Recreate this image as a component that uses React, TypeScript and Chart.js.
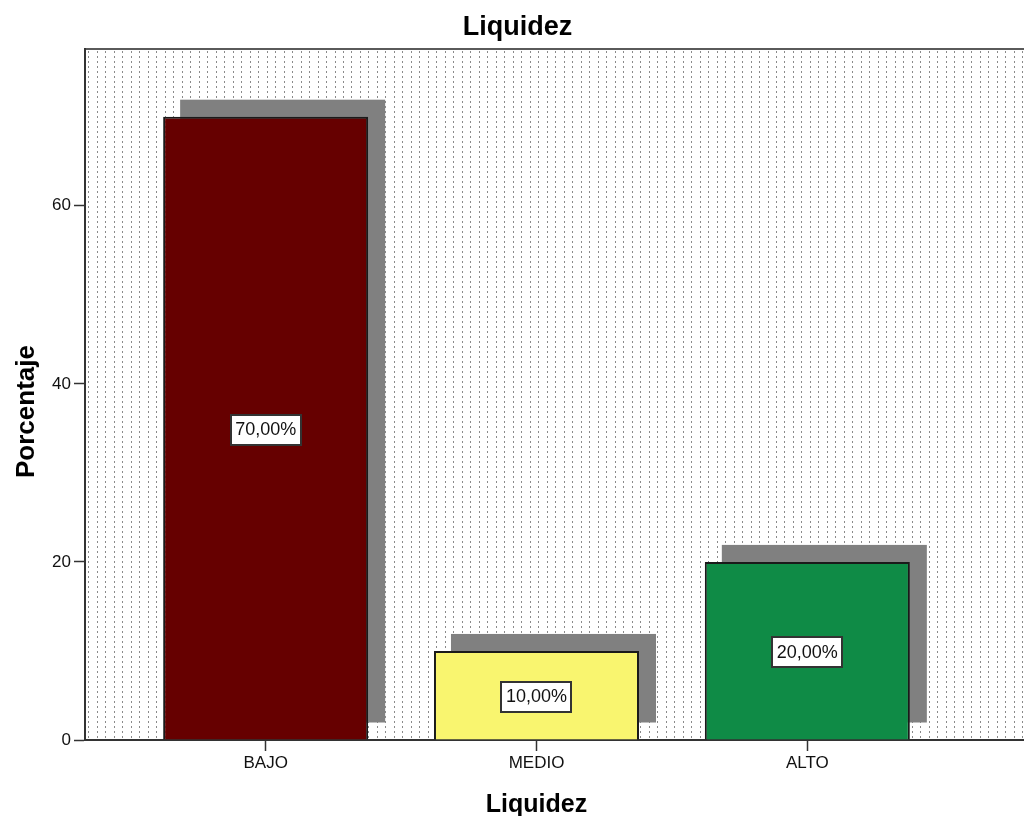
import { useEffect, useRef } from 'react';
import { Chart, registerables } from 'chart.js';

Chart.register(...registerables);

// Frequency table: Liquidez
const CATEGORIES = ['BAJO', 'MEDIO', 'ALTO'];
const PERCENTAGES = [70, 10, 20];
const BAR_COLORS = ['#660000', '#F9F56F', '#0F8B46'];
const Y_TICKS = [0, 20, 40, 60];

const CHART_TITLE = 'Liquidez';
const X_TITLE = 'Liquidez';
const Y_TITLE = 'Porcentaje';

const FONT = '"Liberation Sans", Arial, Helvetica, sans-serif';
const SHADOW_OFFSET = 17;

const formatPct = (v: number) => v.toFixed(2).replace('.', ',') + '%';

// Dotted backdrop, drop shadows, boxed value labels and axis titles
const spssDecor = {
  id: 'spssDecor',
  beforeDraw(chart: any) {
    const { ctx, chartArea: a, width } = chart;
    ctx.save();
    ctx.fillStyle = '#ffffff';
    ctx.fillRect(a.left, a.top, width - a.left, a.bottom - a.top);
    ctx.beginPath();
    ctx.rect(a.left, a.top, width - a.left, a.bottom - a.top);
    ctx.clip();
    ctx.strokeStyle = '#8a8a8a';
    ctx.lineWidth = 1;
    ctx.setLineDash([2, 3]);
    for (let x = a.left + 3.3; x < width; x += 8.49) {
      const px = Math.round(x) + 0.5;
      ctx.beginPath();
      ctx.moveTo(px, a.top + 2);
      ctx.lineTo(px, a.bottom);
      ctx.stroke();
    }
    ctx.restore();

    ctx.save();
    ctx.strokeStyle = '#5a5a5a';
    ctx.lineWidth = 2;
    ctx.beginPath();
    ctx.moveTo(a.left, a.top);
    ctx.lineTo(width, a.top);
    ctx.stroke();
    ctx.restore();
  },
  beforeDatasetsDraw(chart: any) {
    const { ctx } = chart;
    const meta = chart.getDatasetMeta(0);
    ctx.save();
    ctx.fillStyle = '#808080';
    meta.data.forEach((bar: any) => {
      const { x, y, base, width } = bar.getProps(['x', 'y', 'base', 'width'], true);
      ctx.fillRect(x - width / 2 + SHADOW_OFFSET, y - SHADOW_OFFSET, width, base - y);
    });
    ctx.restore();
  },
  afterDatasetsDraw(chart: any) {
    const { ctx } = chart;
    const meta = chart.getDatasetMeta(0);
    ctx.save();
    ctx.font = `18px ${FONT}`;
    ctx.textAlign = 'center';
    ctx.textBaseline = 'middle';
    meta.data.forEach((bar: any, i: number) => {
      const { x, y, base } = bar.getProps(['x', 'y', 'base'], true);
      const text = formatPct(PERCENTAGES[i]);
      const tw = ctx.measureText(text).width;
      const bw = Math.round(tw + 9);
      const bh = 30;
      const cx = x;
      const cy = (y + base) / 2 + 1.5;
      const left = Math.round(cx - bw / 2);
      const top = Math.round(cy - bh / 2);
      ctx.fillStyle = '#ffffff';
      ctx.fillRect(left, top, bw, bh);
      ctx.strokeStyle = '#333333';
      ctx.lineWidth = 2;
      ctx.strokeRect(left, top, bw, bh);
      ctx.fillStyle = '#111111';
      ctx.fillText(text, cx, cy + 0.5);
    });
    ctx.restore();
  },
  afterDraw(chart: any) {
    const { ctx, scales } = chart;
    ctx.save();
    ctx.fillStyle = '#000000';
    ctx.textAlign = 'center';
    ctx.textBaseline = 'alphabetic';

    ctx.font = `bold 25px ${FONT}`;
    ctx.fillText(X_TITLE, scales.x.getPixelForValue(1), 812);

    ctx.translate(33.6, 411.5);
    ctx.rotate(-Math.PI / 2);
    ctx.font = `bold 26px ${FONT}`;
    ctx.fillText(Y_TITLE, 0, 0);
    ctx.restore();
  },
};

export default function App() {
  const canvasRef = useRef<HTMLCanvasElement | null>(null);

  useEffect(() => {
    const canvas = canvasRef.current;
    if (!canvas) return;

    const chart = new Chart(canvas, {
      type: 'bar',
      data: {
        datasets: [
          {
            data: PERCENTAGES.map((v, i) => ({ x: i, y: v })),
            backgroundColor: BAR_COLORS,
            borderColor: '#1a1a1a',
            borderWidth: 2,
            barPercentage: 0.757,
            categoryPercentage: 1,
          },
        ],
      },
      options: {
        responsive: false,
        animation: false,
        devicePixelRatio: 1,
        layout: { padding: { left: 11, right: 0, top: 0, bottom: 0 } },
        plugins: {
          legend: { display: false },
          tooltip: { enabled: false },
          title: {
            display: true,
            text: CHART_TITLE,
            color: '#000000',
            font: { family: FONT, size: 27, weight: 'bold' },
            padding: { top: 11.6, bottom: 5 },
          },
        },
        scales: {
          x: {
            type: 'linear',
            offset: false,
            min: -0.667,
            max: 2.8,
            afterBuildTicks: (scale: any) => {
              scale.ticks = CATEGORIES.map((_, i) => ({ value: i }));
            },
            afterFit: (scale: any) => {
              scale.height = 76;
            },
            ticks: {
              autoSkip: false,
              maxRotation: 0,
              padding: 2,
              color: '#111111',
              font: { family: FONT, size: 17 },
              callback: (v: any) => CATEGORIES[v] ?? '',
            },
            grid: {
              offset: false,
              drawOnChartArea: false,
              drawTicks: true,
              tickLength: 11,
              tickColor: '#333333',
              tickWidth: 1.5,
            },
            border: { display: true, color: '#333333', width: 2 },
          },
          y: {
            type: 'linear',
            min: 0,
            max: 77.6,
            afterBuildTicks: (scale: any) => {
              scale.ticks = Y_TICKS.map((v) => ({ value: v }));
            },
            afterFit: (scale: any) => {
              scale.width = 74;
            },
            ticks: {
              padding: 3,
              color: '#111111',
              font: { family: FONT, size: 17 },
            },
            grid: {
              drawOnChartArea: false,
              drawTicks: true,
              tickLength: 11,
              tickColor: '#333333',
              tickWidth: 1.5,
            },
            border: { display: true, color: '#333333', width: 2 },
          },
        },
      },
      plugins: [spssDecor],
    } as any);

    return () => chart.destroy();
  }, []);

  return (
    <div style={{ position: 'absolute', left: 0, top: 0, width: 1024, height: 816, background: '#ffffff' }}>
      <canvas ref={canvasRef} width={1024} height={816} style={{ display: 'block' }} />
    </div>
  );
}
